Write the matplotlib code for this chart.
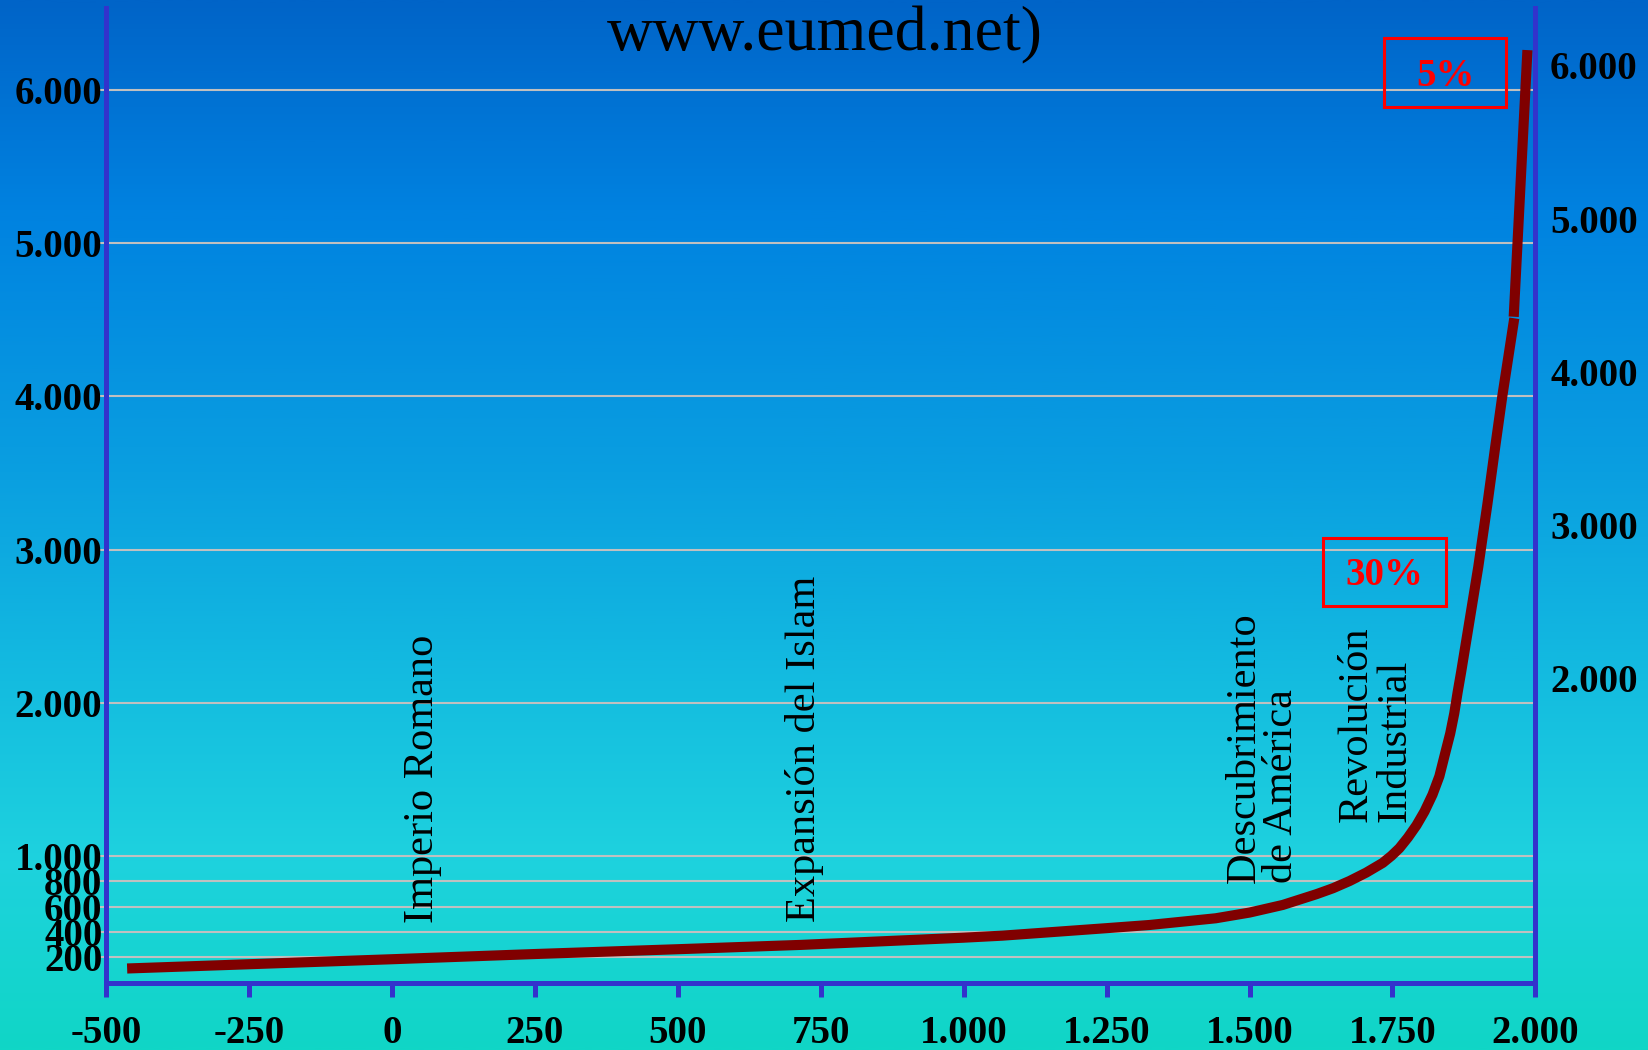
import numpy as np
import matplotlib
matplotlib.use("Agg")
import matplotlib.pyplot as plt
from matplotlib.colors import LinearSegmentedColormap
from matplotlib.patches import Rectangle

# values
years = [-463, 0, 250, 500, 715, 1000, 1068, 1250, 1325, 1441, 1500, 1558,
         1617, 1646, 1675, 1704, 1733, 1748, 1762, 1777, 1792, 1806, 1820,
         1832, 1843, 1851, 1858, 1864, 1870, 1885, 1900, 1916, 1930, 1942,
         1963]
population = [112, 185, 226, 264, 298, 355, 371, 430, 455, 508, 553, 613,
              698, 745, 802, 868, 945, 1000, 1050, 1120, 1200, 1290, 1400,
              1520, 1683, 1800, 1930, 2070, 2199, 2542, 2886, 3297, 3680,
              4000, 4510]
late_years = [1962, 1986]
late_population = [4520, 6261]

x_ticks = [-500, -250, 0, 250, 500, 750, 1000, 1250, 1500, 1750, 2000]
x_labels = ['-500', '-250', '0', '250', '500', '750', '1.000', '1.250',
            '1.500', '1.750', '2.000']
left_ticks = [200, 400, 600, 800, 1000, 2000, 3000, 4000, 5000, 6000]
left_labels = ['200', '400', '600', '800', '1.000', '2.000', '3.000',
               '4.000', '5.000', '6.000']
right_ticks = [2000, 3000, 4000, 5000, 6000]
right_labels = ['2.000', '3.000', '4.000', '5.000', '6.000']

events = ['Imperio Romano', 'Expansión del Islam',
          'Descubrimiento\nde América', 'Revolución\nIndustrial']
rates = ['5%', '30%']

title = 'www.eumed.net)'

plt.rcParams['font.family'] = ['Liberation Serif', 'DejaVu Serif']

# broken y scale: below 1.000 the axis is compressed
BREAK = 1000.0
LOW = 0.828


def fwd(y):
    y = np.asarray(y, dtype=float)
    return np.where(y <= BREAK, y * LOW, BREAK * LOW + (y - BREAK))


def inv(z):
    z = np.asarray(z, dtype=float)
    return np.where(z <= BREAK * LOW, z / LOW, BREAK + (z - BREAK * LOW))


fig = plt.figure(figsize=(16.48, 10.5), dpi=100)

# gradient background
bg = fig.add_axes([0, 0, 1, 1], zorder=-1)
cmap = LinearSegmentedColormap.from_list('bg', [
    (0.0, '#0064c8'), (0.2, '#0082e0'), (0.45, '#0a9fe0'),
    (0.65, '#14bce0'), (0.82, '#1ed2de'), (1.0, '#10d6c6')])
grad = np.linspace(0, 1, 512).reshape(-1, 1)
bg.imshow(grad, aspect='auto', cmap=cmap, extent=[0, 1, 0, 1], origin='upper')
bg.axis('off')

ax = fig.add_axes([0.0643, 0.0641, 0.8674, 0.9283])
ax.set_facecolor('none')
ax.set_yscale('function', functions=(fwd, inv))
ax.set_xlim(-500, 2000)
ax.set_ylim(0, 6536)

spine_col = '#3333cc'
ax.spines['top'].set_visible(False)
for side in ['left', 'right', 'bottom']:
    ax.spines[side].set_color(spine_col)
    ax.spines[side].set_linewidth(3.6)

ax.set_xticks(x_ticks, x_labels)
ax.set_yticks(left_ticks, left_labels)
ax.yaxis.set_minor_locator(matplotlib.ticker.NullLocator())
ax.grid(axis='y', color='#c0c0c0', lw=1.5)
ax.set_axisbelow(True)

ax.tick_params(axis='x', direction='out', length=10, width=3.6,
               color=spine_col, pad=13, labelsize=28)
ax.tick_params(axis='y', direction='out', length=5, width=1.5,
               color='#c0c0c0', pad=-2.5, labelsize=28)
for lab in ax.get_xticklabels() + ax.get_yticklabels():
    lab.set_fontweight('bold')

# right side labels sit a bit above their grid lines
for v, lab in zip(right_ticks, right_labels):
    ax.annotate(lab, xy=(1, v), xycoords=ax.get_yaxis_transform(),
                xytext=(10.5, 14.5), textcoords='offset points',
                ha='left', va='center', fontsize=28, fontweight='bold')

# population curve
ax.plot(years, population, color='#800000', lw=7.3,
        solid_capstyle='butt', solid_joinstyle='round', zorder=3)
ax.plot(late_years, late_population, color='#800000', lw=7.3,
        solid_capstyle='butt', zorder=3)

# historical events (anchor = baseline of the last line)
event_pos = [(72, 471), (740, 482), (1576, 787), (1773, 1224)]
for s, (ex, ey) in zip(events, event_pos):
    ax.text(ex, ey, s, rotation=90, rotation_mode='anchor', ha='left',
            va='baseline', fontsize=30.5, multialignment='left',
            linespacing=0.98)

# growth rate boxes
box_pos = [(1736, 5889, 213, 451), (1629, 2629, 214, 445)]
for s, (bx, by, bw, bh) in zip(rates, box_pos):
    ax.add_patch(Rectangle((bx, by), bw, bh, fill=False, ec='#ff0000',
                           lw=2.2, zorder=4))
    ax.annotate(s, xy=(bx + bw / 2, by + bh / 2), xytext=(0, -2.5),
                textcoords='offset points', color='#ff0000', fontsize=28,
                fontweight='bold', ha='center', va='center', zorder=4)

fig.text(0.5006, 0.9515, title, ha='center', va='baseline', fontsize=46)

fig.savefig('out.png', dpi=100)
